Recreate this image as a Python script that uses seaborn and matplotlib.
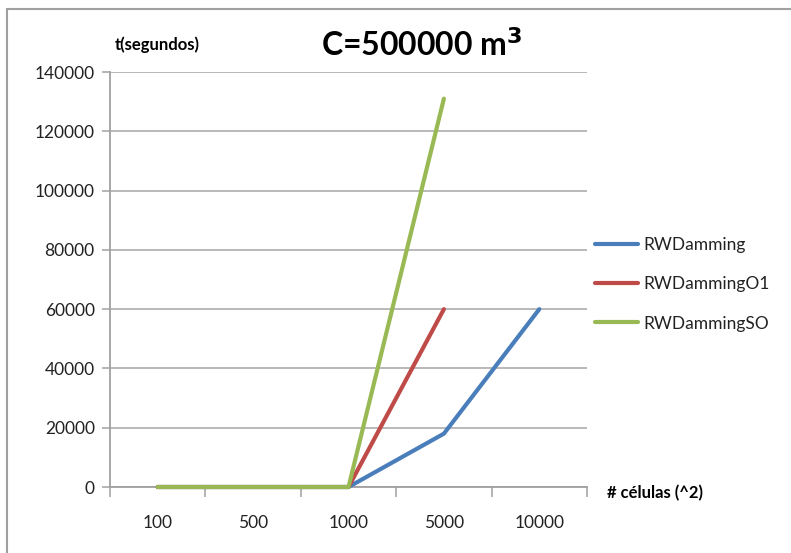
import matplotlib
matplotlib.use("Agg")
import matplotlib.pyplot as plt
import seaborn as sns
import pandas as pd
import numpy as np
from matplotlib.patches import Rectangle

categories = ["100", "500", "1000", "5000", "10000"]
rwdamming = [0, 0, 0, 18000, 60000]
rwdamming_o1 = [0, 0, 0, 60000, np.nan]
rwdamming_so = [0, 0, 0, 131000, np.nan]
series_names = ["RWDamming", "RWDammingO1", "RWDammingSO"]
y_ticks = [0, 20000, 40000, 60000, 80000, 100000, 120000, 140000]

rows = []
for name, vals in zip(series_names, [rwdamming, rwdamming_o1, rwdamming_so]):
    for c, v in zip(categories, vals):
        rows.append({"cat": c, "pos": categories.index(c), "value": v, "series": name})
df = pd.DataFrame(rows).dropna()

sns.set_theme(style="white")
plt.rcParams["font.family"] = ["Lato", "DejaVu Sans"]

fig = plt.figure(figsize=(7.91, 5.53), dpi=100)
ax = fig.add_axes([110/791, 66/553, 477/791, 415/553])

palette = {"RWDamming": "#4A7EBB", "RWDammingO1": "#BE4B48", "RWDammingSO": "#98B954"}
sns.lineplot(data=df, x="pos", y="value", hue="series", palette=palette,
             linewidth=3.0, ax=ax, sort=False, estimator=None, legend=True)
for ln in ax.get_lines():
    ln.set_clip_on(False)
    ln.set_zorder(5)
    ln.set_solid_capstyle("round")
    ln.set_solid_joinstyle("round")

ax.set_xlim(-0.5, 4.5)
ax.set_ylim(0, 140000)
ax.set_yticks(y_ticks)
ax.set_yticklabels([str(v) for v in y_ticks], fontsize=12.5, color="#222222")
ax.yaxis.grid(True, color="#a6a6a6", linewidth=1.1)
ax.set_axisbelow(True)
ax.tick_params(axis="y", length=6, width=1.1, color="#a0a0a0", direction="out", left=True, pad=5)

ax.set_xticks(range(len(categories)))
ax.set_xticklabels(categories, fontsize=12.5, color="#222222")
ax.set_xticks(np.arange(-0.5, 5.0, 1.0), minor=True)
ax.tick_params(axis="x", which="major", length=0, pad=20)
ax.tick_params(axis="x", which="minor", length=7, width=1.1, color="#a0a0a0", direction="out", bottom=True)

for s in ["top", "right"]:
    ax.spines[s].set_visible(False)
for s in ["left", "bottom"]:
    ax.spines[s].set_color("#a0a0a0")
    ax.spines[s].set_linewidth(1.3)

ax.set_xlabel("")
ax.set_ylabel("")

leg = ax.legend(loc="upper left", bbox_to_anchor=(579/791, 1 - 221/553),
                bbox_transform=fig.transFigure, frameon=False, fontsize=12.5,
                handlelength=2.5, labelspacing=1.35, handletextpad=0.3)
for line in leg.get_lines():
    line.set_linewidth(3.0)
for t in leg.get_texts():
    t.set_color("#222222")

fig.text(422/791, 1 - 45/553, "C=500000 m$^{\\mathbf{3}}$", ha="center", va="center",
         fontsize=23, fontweight="bold", color="black")
fig.text(115/791, 1 - 45/553, "t(segundos)", ha="left", va="center",
         fontsize=12, fontweight="bold", color="black")
fig.text(607/791, 1 - 493/553, "# células (^2)", ha="left", va="center",
         fontsize=12, fontweight="bold", color="black")

fig.patches.append(Rectangle((7/791, -0.1), 1.2, 1 - 9/553 + 0.1, transform=fig.transFigure,
                             fill=False, edgecolor="#a0a0a0", linewidth=1.5))

fig.savefig("out.png", dpi=100, facecolor="white")
